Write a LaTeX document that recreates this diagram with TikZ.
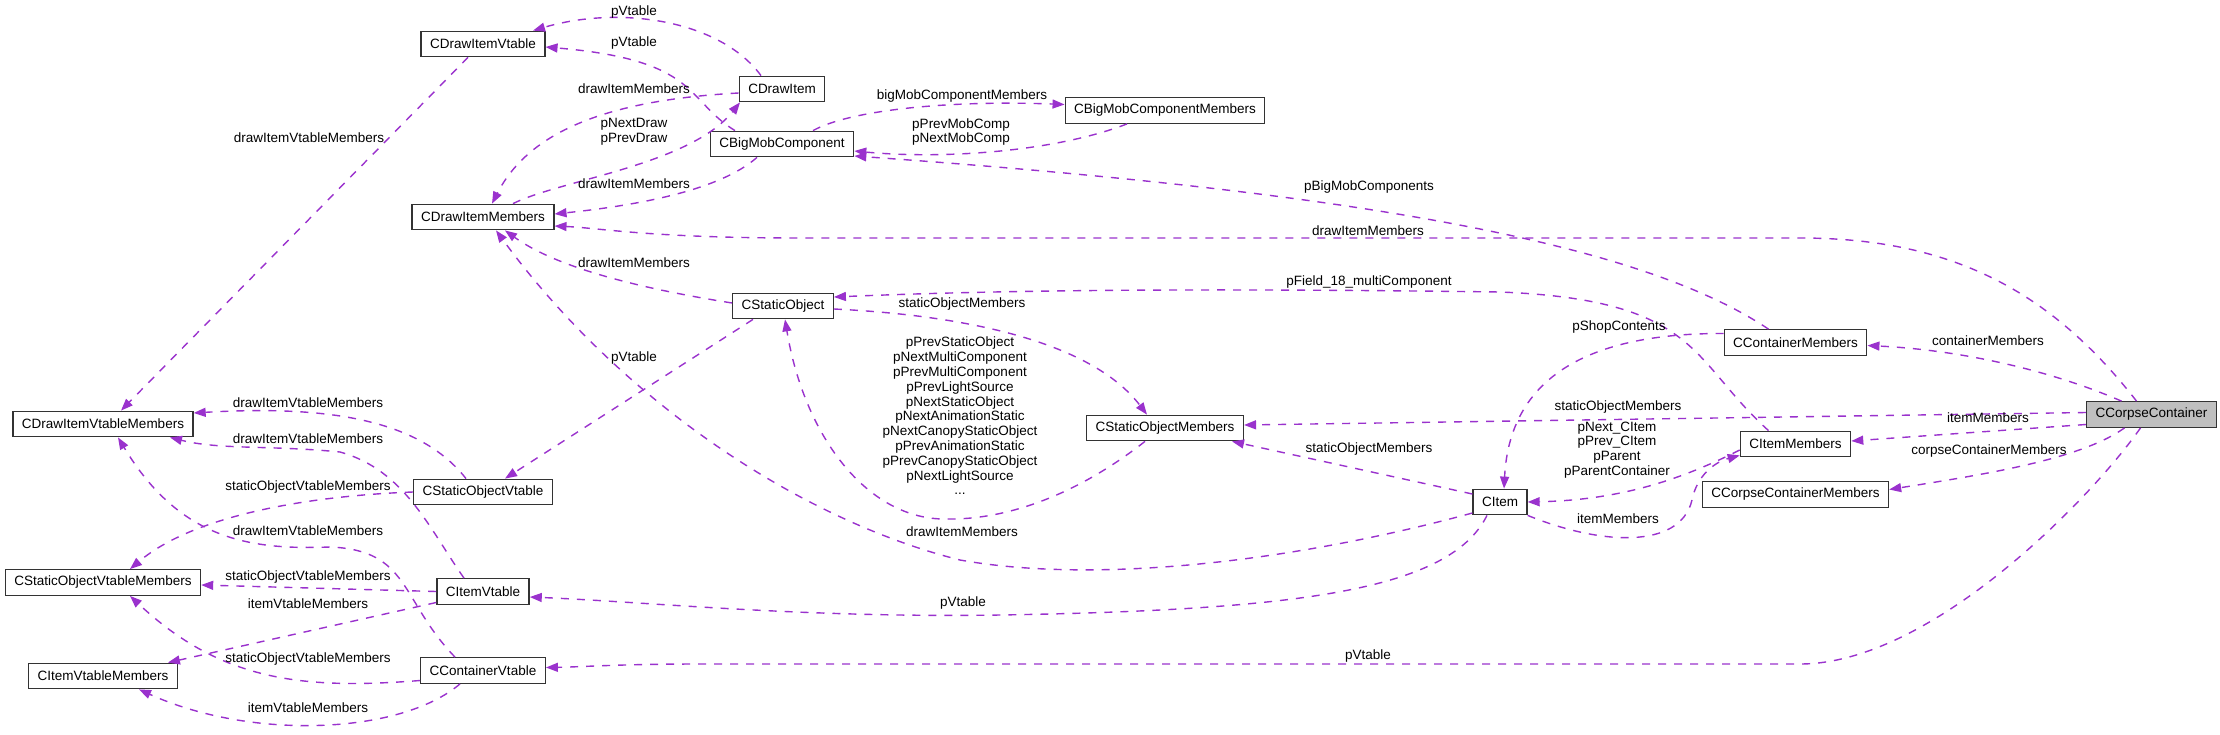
\documentclass[tikz,border=0pt]{standalone}
\usepackage{fontspec}
\setmainfont{Liberation Sans}
\usepackage{xcolor}
\usepackage{tikz}
\usetikzlibrary{positioning, calc, arrows.meta}

\definecolor{usecol}{HTML}{9A32CD}
\definecolor{focusgray}{HTML}{BFBFBF}

\begin{document}
\begin{tikzpicture}[
    x=1pt, y=-1pt,
    cls/.style={draw=black!80, line width=1.3pt, fill=white, minimum height=25.5pt, inner xsep=9pt, inner ysep=3pt, font=\fontsize{13.5}{15}\selectfont},
    focus/.style={cls, fill=focusgray},
    lbl/.style={align=center, inner sep=0pt, font=\fontsize{13.5}{14.8}\selectfont},
    uses/.style={-{Triangle[length=12pt, width=9pt]}, draw=usecol, line width=1.4pt, dash pattern=on 8pt off 8pt},
]
\useasboundingbox (0,0) rectangle (2220,734);

% Vtable members
\node[cls] (dvm) at (103,424) {CDrawItemVtableMembers};
\node[cls] (svm) at (103,582.5) {CStaticObjectVtableMembers};
\node[cls] (ivm) at (103,676) {CItemVtableMembers};

% Vtables and draw members
\node[cls] (dvt) at (483,44) {CDrawItemVtable};
\node[cls] (dim) at (483,217) {CDrawItemMembers};
\node[cls] (sov) at (483,492) {CStaticObjectVtable};
\node[cls] (iv) at (483,591.5) {CItemVtable};
\node[cls] (cv) at (483,670.5) {CContainerVtable};

% Objects
\node[cls] (dri) at (782,89) {CDrawItem};
\node[cls] (bmc) at (782,144) {CBigMobComponent};
\node[cls] (so) at (783,306) {CStaticObject};
\node[cls] (bmm) at (1165,110.5) {CBigMobComponentMembers};
\node[cls] (som) at (1165,428) {CStaticObjectMembers};
\node[cls] (it) at (1500,502) {CItem};

% Container members
\node[cls] (cm) at (1795.5,342.5) {CContainerMembers};
\node[cls] (im) at (1795.5,444) {CItemMembers};
\node[cls] (ccm) at (1795.5,494.5) {CCorpseContainerMembers};

% Focus class
\node[focus] (cc) at (2151.5,414.5) {CCorpseContainer};

% CDrawItem / CBigMobComponent
\draw[uses] ($(dri.north)+(-21,0)$) .. controls (720,20) and (620,5) .. ($(dvt.north)+(50,0)$);
\node[lbl] (lab-dri-dvt) at (634,12) {pVtable};
\draw[uses] ($(bmc.north)+(-47,0)$) .. controls (685,100) and (700,60) .. ($(dvt.east)+(0,3)$);
\node[lbl] (lab-bmc-dvt) at (634,43) {pVtable};
\draw[uses] ($(dri.west)+(0,4)$) .. controls (610,100) and (530,130) .. ($(dim.north)+(9,0)$);
\node[lbl] (lab-dri-dim) at (634,89) {drawItemMembers};
\draw[uses] ($(dim.north)+(30,0)$) .. controls (560,180) and (690,165) .. ($(dri.south)+(-42,0)$);
\node[lbl] (lab-dim-dri) at (634,132) {pNextDraw\\pPrevDraw};
\draw[uses] ($(bmc.south)+(-25,0)$) .. controls (720,190) and (640,205) .. ($(dim.east)+(0,-3)$);
\node[lbl] (lab-bmc-dim) at (634,184) {drawItemMembers};
\draw[uses] ($(dvt.south)+(-15,0)$) -- ($(dvm.north)+(18,0)$);
\node[lbl] (lab-dvt-dvm) at (309,138) {drawItemVtableMembers};
\draw[uses] ($(bmc.north)+(31,0)$) .. controls (850,110) and (950,100) .. ($(bmm.west)+(0,-6)$);
\node[lbl] (lab-bmc-bmm) at (962,96) {bigMobComponentMembers};
\draw[uses] ($(bmm.south)+(-38,0)$) .. controls (1060,150) and (950,160) .. ($(bmc.east)+(0,7)$);
\node[lbl] (lab-bmm-bmc) at (961,132) {pPrevMobComp\\pNextMobComp};

% CStaticObject
\draw[uses] ($(so.west)+(0,-3)$) .. controls (650,290) and (560,270) .. ($(dim.south)+(22,0)$);
\node[lbl] (lab-so-dim) at (634,263) {drawItemMembers};
\draw[uses] ($(so.east)+(0,3)$) .. controls (960,315) and (1090,340) .. ($(som.north)+(-18,0)$);
\node[lbl] (lab-so-som) at (962,304) {staticObjectMembers};
\draw[uses] ($(som.south)+(-20,0)$) .. controls (1070,500) and (1000,520) .. (946,519) .. controls (870,520) and (805,440) .. ($(so.south)+(2,0)$);
\node[lbl] (lab-som-so) at (960,416) {pPrevStaticObject\\pNextMultiComponent\\pPrevMultiComponent\\pPrevLightSource\\pNextStaticObject\\pNextAnimationStatic\\pNextCanopyStaticObject\\pPrevAnimationStatic\\pPrevCanopyStaticObject\\pNextLightSource\\...};
\draw[uses] ($(so.south)+(-30,0)$) -- ($(sov.north)+(22,0)$);
\node[lbl] (lab-so-sov) at (634,358) {pVtable};

% CContainerMembers / CItemMembers / CItem
\draw[uses] ($(cm.north)+(-27,0)$) .. controls (1650,250) and (1400,195) .. ($(bmc.east)+(0,12)$);
\node[lbl] (lab-cm-bmc) at (1369,187) {pBigMobComponents};
\draw[uses] ($(im.north)+(-27,0)$) .. controls (1690,360) and (1700,300) .. (1500,292) .. controls (1200,288) and (1000,290) .. ($(so.east)+(0,-9)$);
\node[lbl] (lab-im-so) at (1369,282) {pField\_18\_multiComponent};
\draw[uses] ($(cm.west)+(0,-9)$) .. controls (1600,333) and (1510,370) .. ($(it.north)+(4,0)$);
\node[lbl] (lab-cm-it) at (1619,327) {pShopContents};
\draw[uses] ($(im.west)+(0,6)$) .. controls (1680,480) and (1620,500) .. (it.east);
\node[lbl] (lab-im-it) at (1617,450) {pNext\_CItem\\pPrev\_CItem\\pParent\\pParentContainer};
\draw[uses] (it.south east) .. controls (1600,545) and (1680,550) .. (1692,500) .. controls (1697,475) and (1715,462) .. ($(im.south west)+(0,-2)$);
\node[lbl] (lab-it-im) at (1618,519) {itemMembers};
\draw[uses] ($(it.west)+(0,-8)$) -- ($(som.south)+(67,0)$);
\node[lbl] (lab-it-som) at (1369,449) {staticObjectMembers};
\draw[uses] ($(it.west)+(0,11)$) .. controls (1300,560) and (1100,585) .. (960,560) .. controls (800,520) and (620,400) .. ($(dim.south)+(13,0)$);
\node[lbl] (lab-it-dim) at (962,532) {drawItemMembers};
\draw[uses] ($(it.south)+(-13,0)$) .. controls (1450,590) and (1300,610) .. (1000,615) .. controls (800,618) and (650,602) .. ($(iv.east)+(0,5.5)$);
\node[lbl] (lab-it-iv) at (963,603) {pVtable};

% CCorpseContainer
\draw[uses] ($(cc.north)+(-15,0)$) .. controls (2050,290) and (1950,238) .. (1800,238) -- (800,238) .. controls (650,238) and (600,228) .. ($(dim.east)+(0,9)$);
\node[lbl] (lab-cc-dim) at (1368,231) {drawItemMembers};
\draw[uses] ($(cc.north)+(-30,0)$) .. controls (2050,370) and (1960,350) .. ($(cm.east)+(0,3)$);
\node[lbl] (lab-cc-cm) at (1988,341) {containerMembers};
\draw[uses] ($(cc.west)+(0,-2)$) -- ($(som.east)+(0,-3)$);
\node[lbl] (lab-cc-som) at (1618,407) {staticObjectMembers};
\draw[uses] ($(cc.west)+(0,10)$) -- ($(im.east)+(0,-3)$);
\node[lbl] (lab-cc-im) at (1988,418) {itemMembers};
\draw[uses] ($(cc.south)+(-27,0)$) .. controls (2080,460) and (1980,475) .. ($(ccm.east)+(0,-5)$);
\node[lbl] (lab-cc-ccm) at (1989,451) {corpseContainerMembers};
\draw[uses] ($(cc.south)+(-11,0)$) .. controls (2090,500) and (1930,664) .. (1800,664) -- (700,664) .. controls (620,664) and (580,667) .. ($(cv.east)+(0,-3)$);
\node[lbl] (lab-cc-cv) at (1368,656) {pVtable};

% Vtables to vtable members
\draw[uses] ($(sov.north)+(-17,0)$) .. controls (420,420) and (330,405) .. ($(dvm.east)+(0,-11)$);
\node[lbl] (lab-sov-dvm) at (308,403) {drawItemVtableMembers};
\draw[uses] ($(iv.north)+(-19,0)$) .. controls (430,530) and (405,470) .. (340,452) .. controls (270,445) and (220,450) .. ($(dvm.south)+(67,0)$);
\node[lbl] (lab-iv-dvm) at (308,439) {drawItemVtableMembers};
\draw[uses] (sov.west) .. controls (330,495) and (200,510) .. ($(svm.north)+(27,0)$);
\node[lbl] (lab-sov-svm) at (308,487) {staticObjectVtableMembers};
\draw[uses] ($(cv.north)+(-28,0)$) .. controls (400,600) and (410,550) .. (330,547) .. controls (250,550) and (180,540) .. ($(dvm.south)+(15,0)$);
\node[lbl] (lab-cv-dvm) at (308,531) {drawItemVtableMembers};
\draw[uses] (iv.west) -- ($(svm.east)+(0,2.5)$);
\node[lbl] (lab-iv-svm) at (308,577) {staticObjectVtableMembers};
\draw[uses] ($(iv.west)+(0,11)$) -- ($(ivm.north east)+(-10,0)$);
\node[lbl] (lab-iv-ivm) at (308,604) {itemVtableMembers};
\draw[uses] ($(cv.west)+(0,10)$) .. controls (300,690) and (220,680) .. ($(svm.south)+(27,0)$);
\node[lbl] (lab-cv-svm) at (308,659) {staticObjectVtableMembers};
\draw[uses] ($(cv.south)+(-23,0)$) .. controls (400,735) and (250,740) .. ($(ivm.south)+(36,0)$);
\node[lbl] (lab-cv-ivm) at (308,708) {itemVtableMembers};

\end{tikzpicture}
\end{document}
